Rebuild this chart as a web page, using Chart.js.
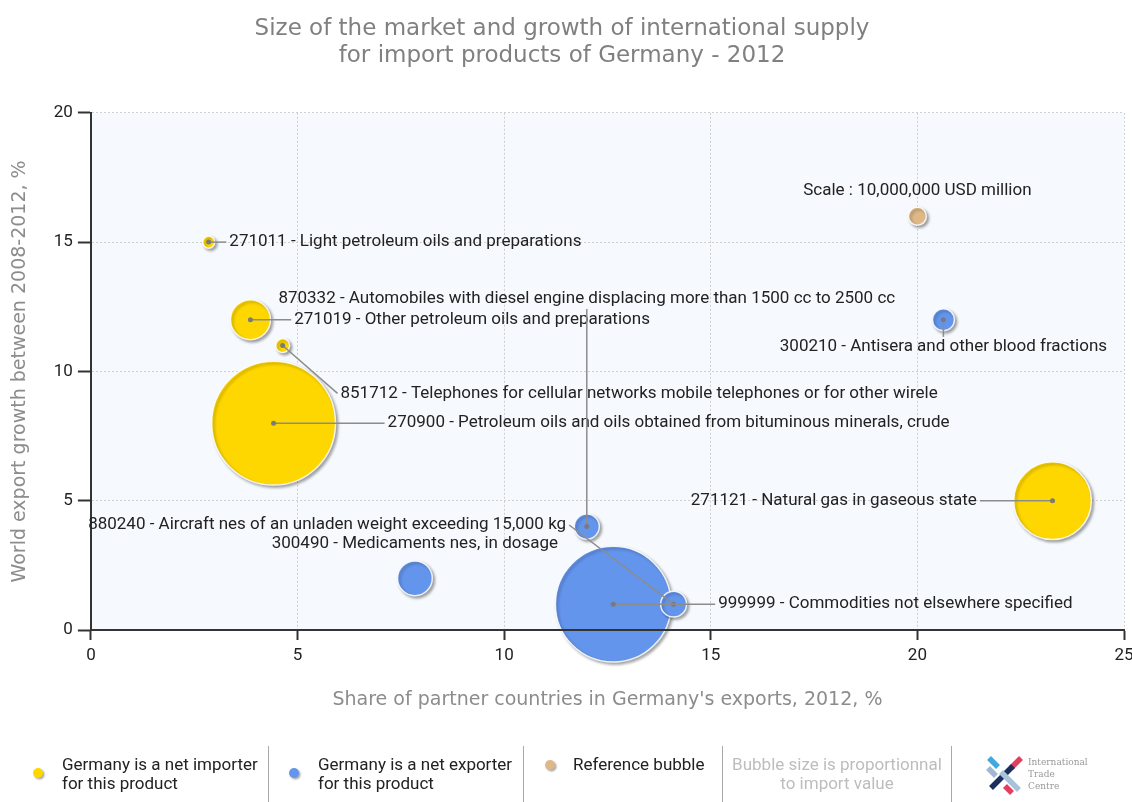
<!DOCTYPE html>
<html>
<head>
<meta charset="utf-8">
<script src="https://cdn.jsdelivr.net/npm/chart.js@4.4.1/dist/chart.umd.min.js"></script>
<style>
  html, body { margin: 0; padding: 0; background: #fff; }
  #wrap { position: relative; width: 1132px; height: 802px; overflow: hidden; }
  #chart { position: absolute; left: 0; top: 0; }
  .lg { position: absolute; font: 17px Roboto, sans-serif; color: #222; line-height: 19px; white-space: nowrap; }
  .dot { position: absolute; width: 10px; height: 10px; border-radius: 50%; box-shadow: 1.5px 1.5px 2px rgba(0,0,0,0.35); }
  .sep { position: absolute; top: 746px; width: 1px; height: 56px; background: #a8a8a8; }
  .itc { position: absolute; left: 1028px; top: 756px; font: 9px "DejaVu Serif", serif; color: #9a9a9a; line-height: 12px; }
</style>
</head>
<body>
<div id="wrap">
  <canvas id="chart" width="1132" height="802"></canvas>

  <div class="dot" style="left:33px;top:768px;background:#ffd700"></div>
  <div class="lg" style="left:62px;top:755px">Germany is a net importer<br>for this product</div>
  <div class="sep" style="left:268px"></div>

  <div class="dot" style="left:289px;top:768px;background:#6495ed"></div>
  <div class="lg" style="left:318px;top:755px">Germany is a net exporter<br>for this product</div>
  <div class="sep" style="left:523px"></div>

  <div class="dot" style="left:545px;top:760px;background:#deb887"></div>
  <div class="lg" style="left:573px;top:755px">Reference bubble</div>
  <div class="sep" style="left:722px"></div>

  <div class="lg" style="left:723px;top:755px;width:228px;text-align:center;color:#bdbdbd">Bubble size is proportionnal<br>to import value</div>
  <div class="sep" style="left:951px"></div>

  <svg style="position:absolute;left:985px;top:754px" width="40" height="42" viewBox="0 0 40 42">
    <g stroke-width="5.5" stroke-linecap="butt">
      <line x1="4" y1="4" x2="13" y2="13" stroke="#3fa9e0"/>
      <line x1="3" y1="14" x2="11" y2="22" stroke="#9fb8d4"/>
      <line x1="36" y1="4" x2="26" y2="14" stroke="#e0405e"/>
      <line x1="28" y1="12" x2="6" y2="34" stroke="#1b2f5a"/>
      <line x1="16" y1="18" x2="34" y2="36" stroke="#a9c2dc"/>
      <line x1="20" y1="32" x2="27" y2="39" stroke="#e0405e"/>
    </g>
  </svg>
  <div class="itc">International<br>Trade<br>Centre</div>
</div>

<script>
// products shown on the chart
const productLabels = [
  '271011 - Light petroleum oils and preparations',
  '271019 - Other petroleum oils and preparations',
  '851712 - Telephones for cellular networks mobile telephones or for other wirele',
  '270900 - Petroleum oils and oils obtained from bituminous minerals, crude',
  '271121 - Natural gas in gaseous state',
  '870332 - Automobiles with diesel engine displacing more than 1500 cc to 2500 cc',
  '880240 - Aircraft nes of an unladen weight exceeding 15,000 kg',
  '999999 - Commodities not elsewhere specified',
  '300490 - Medicaments nes, in dosage',
  '300210 - Antisera and other blood fractions'
];
// share of partner countries in Germany's exports, 2012, %
const partnerShare = [2.85, 3.86, 4.64, 4.42, 23.27, 12.0, 14.1, 12.64, 7.84, 20.63];
// world export growth 2008-2012, %
const exportGrowth = [15, 12, 11, 8, 5, 4, 1, 1, 2, 12];
// import value (USD million)
const importValue = [670, 7400, 900, 71000, 28000, 2900, 3100, 62000, 5600, 2240];
// true = Germany is a net exporter for this product
const netExporter = [false, false, false, false, false, true, true, true, true, true];

// reference bubble
const refShare = 20;
const refGrowth = 16;
const refValue = 1500;
const refCaption = 'Scale : 10,000,000 USD million';

const xTicks = [0, 5, 10, 15, 20, 25];
const yTicks = [0, 5, 10, 15, 20];

// label anchor per product, in axis units: [x, y, align, leader line]
const labelAt = [
  [3.35, 15, 'left', true],
  [4.92, 12, 'left', true],
  [6.04, 9.15, 'left', true],
  [7.18, 8, 'left', true],
  [21.44, 5, 'right', true],
  [12.0, 12.8, 'center', true],
  [11.5, 4.06, 'right', true],
  [15.18, 1, 'left', true],
  [7.84, 3.33, 'center', false],
  [20.63, 10.95, 'center', true]
];

const YELLOW = '#ffd700';
const BLUE = '#6495ed';
const TAN = '#deb887';
const radiusScale = 9 / Math.sqrt(refValue);
const radiusOf = (v) => radiusScale * Math.sqrt(v);

function pointsFor(flag) {
  return productLabels
    .map((_, i) => i)
    .filter(i => netExporter[i] === flag)
    .sort((a, b) => importValue[b] - importValue[a])
    .map(i => ({ x: partnerShare[i], y: exportGrowth[i], r: radiusOf(importValue[i]) }));
}

const plotBackground = {
  id: 'plotBackground',
  beforeDraw(chart) {
    const { ctx, chartArea: a } = chart;
    ctx.save();
    ctx.fillStyle = '#f6f9fd';
    ctx.fillRect(a.left, a.top, a.right - a.left, a.bottom - a.top);
    ctx.restore();
  }
};

const bubbleShadow = {
  id: 'bubbleShadow',
  beforeDatasetDraw(chart) {
    const ctx = chart.ctx;
    ctx.save();
    ctx.shadowColor = 'rgba(0,0,0,0.35)';
    ctx.shadowBlur = 3;
    ctx.shadowOffsetX = 2;
    ctx.shadowOffsetY = 2;
  },
  afterDatasetDraw(chart) {
    chart.ctx.restore();
  }
};

const productLabelsPlugin = {
  id: 'productLabels',
  afterDatasetsDraw(chart) {
    const { ctx, chartArea: a, scales: { x, y } } = chart;

    // x axis line is painted over the bubbles
    ctx.save();
    ctx.strokeStyle = '#333';
    ctx.lineWidth = 2;
    ctx.beginPath();
    ctx.moveTo(a.left, a.bottom);
    ctx.lineTo(a.right, a.bottom);
    ctx.stroke();

    ctx.font = '17px Roboto, sans-serif';
    ctx.textBaseline = 'middle';
    productLabels.forEach((text, i) => {
      const bx = x.getPixelForValue(partnerShare[i]);
      const by = y.getPixelForValue(exportGrowth[i]);
      const [lxv, lyv, align, leader] = labelAt[i];
      const lx = x.getPixelForValue(lxv);
      const ly = y.getPixelForValue(lyv);
      if (leader) {
        let ex = lx, ey = ly;
        if (align === 'left') ex = lx - 3;
        else if (align === 'right') ex = lx + 3;
        else ey = ly + (ly < by ? 10 : -10);
        ctx.strokeStyle = '#8c8c8c';
        ctx.lineWidth = 1.5;
        ctx.beginPath();
        ctx.moveTo(bx, by);
        ctx.lineTo(ex, ey);
        ctx.stroke();
        ctx.fillStyle = '#7a7a7a';
        ctx.beginPath();
        ctx.arc(bx, by, 2.5, 0, Math.PI * 2);
        ctx.fill();
      }
      ctx.fillStyle = '#222';
      ctx.textAlign = align;
      ctx.fillText(text, lx, ly);
    });

    ctx.textAlign = 'center';
    ctx.fillText(refCaption, x.getPixelForValue(refShare), y.getPixelForValue(17));
    ctx.restore();
  }
};

new Chart(document.getElementById('chart'), {
  type: 'bubble',
  data: {
    datasets: [
      { label: 'Germany is a net importer for this product', data: pointsFor(false), backgroundColor: YELLOW },
      { label: 'Germany is a net exporter for this product', data: pointsFor(true), backgroundColor: BLUE },
      { label: 'Reference bubble', data: [{ x: refShare, y: refGrowth, r: radiusOf(refValue) }], backgroundColor: TAN }
    ].map(d => ({ ...d, borderColor: 'rgba(255,255,255,0.85)', borderWidth: 1.5, clip: false }))
  },
  options: {
    responsive: false,
    animation: false,
    events: [],
    layout: { autoPadding: false, padding: { left: 0, right: 8, top: 0, bottom: 80 } },
    plugins: {
      legend: { display: false },
      tooltip: { enabled: false },
      title: {
        display: true,
        text: ['Size of the market and growth of international supply', 'for import products of Germany - 2012'],
        color: '#808080',
        font: { family: '"DejaVu Sans", sans-serif', size: 23, weight: 'normal', lineHeight: 1.17 },
        padding: { top: 16, bottom: 43 }
      }
    },
    scales: {
      x: {
        type: 'linear',
        min: 0,
        max: 25,
        afterBuildTicks: (s) => { s.ticks = xTicks.map(v => ({ value: v })); },
        afterFit: (s) => { s.height = 92; s.paddingRight = 0; },
        ticks: { color: '#222', font: { family: 'Roboto, sans-serif', size: 17 }, padding: 6 },
        grid: { color: '#cfcfcf', tickColor: '#333', tickLength: 10, tickWidth: 2 },
        border: { display: true, color: '#333', width: 2, dash: [2, 2] },
        title: {
          display: true,
          text: "Share of partner countries in Germany's exports, 2012, %",
          color: '#8c8c8c',
          font: { family: '"DejaVu Sans", sans-serif', size: 19 },
          padding: { top: 0, bottom: 11 }
        }
      },
      y: {
        type: 'linear',
        min: 0,
        max: 20,
        afterBuildTicks: (s) => { s.ticks = yTicks.map(v => ({ value: v })); },
        ticks: { color: '#222', font: { family: 'Roboto, sans-serif', size: 17 }, padding: 5 },
        grid: { color: '#cfcfcf', tickColor: '#333', tickLength: 13, tickWidth: 2 },
        border: { display: true, color: '#333', width: 2, dash: [2, 2] },
        title: {
          display: true,
          text: 'World export growth between 2008-2012, %',
          color: '#8c8c8c',
          font: { family: '"DejaVu Sans", sans-serif', size: 19 },
          padding: { top: 9, bottom: 17 }
        }
      }
    }
  },
  plugins: [plotBackground, bubbleShadow, productLabelsPlugin]
});
</script>
</body>
</html>
